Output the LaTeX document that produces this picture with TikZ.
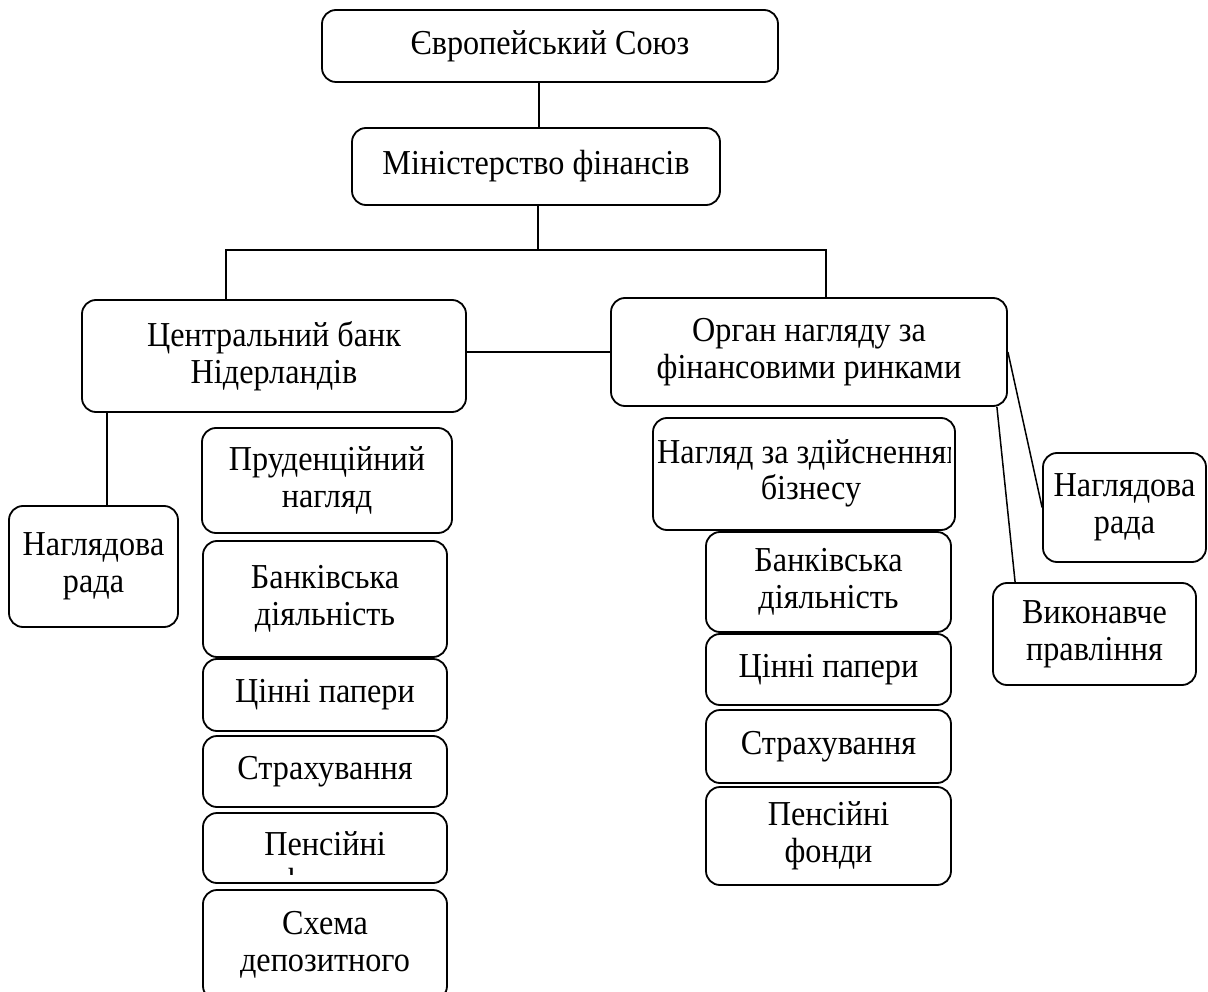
\documentclass[tikz,border=0pt]{standalone}
\usepackage{fontspec}
\setmainfont{Liberation Serif}[FakeStretch=0.92]
\begin{document}
\begin{tikzpicture}[x=1pt,y=-1pt,
  box/.style={draw, line width=1.8pt, rounded corners=14pt, align=center, inner sep=0pt,
              font=\fontsize{35}{37}\selectfont},
  txt/.style={inner sep=0pt, align=center, font=\fontsize{35}{37}\selectfont},
  conn/.style={line width=1.5pt}]
\useasboundingbox (0,0) rectangle (1208,992);
\fill[white] (0,0) rectangle (1208,992);
\clip (0,0) rectangle (1208,992);

% top
\node[box, minimum width=456pt, minimum height=72pt] (eu) at (550,46) {Європейський Союз};
\node[box, minimum width=368pt, minimum height=77pt] (min) at (536,166.5) {Міністерство фінансів};

% second level
\node[box, minimum width=384pt, minimum height=112pt] (cb) at (274,356) {Центральний банк\\Нідерландів};
\node[box, minimum width=396pt, minimum height=108pt] (onf) at (809,352) {Орган нагляду за\\фінансовими ринками};

% left side
\node[box, minimum width=169pt, minimum height=121pt] (nrL) at (93.5,566.5) {Наглядова\\рада};
\node[box, minimum width=250pt, minimum height=105pt] (pn) at (327,480.5) {Пруденційний\\нагляд};
\node[box, minimum width=244pt, minimum height=116pt] (bdL) at (325,599) {Банківська\\діяльність};
\node[box, minimum width=244pt, minimum height=72pt] (cpL) at (325,695) {Цінні папери};
\node[box, minimum width=244pt, minimum height=71pt] (strL) at (325,771.5) {Страхування};
\node[box, minimum width=244pt, minimum height=70pt] (pfL) at (325,848) {};
\begin{scope}
  \clip (203,817) rectangle (447,874);
  \node[txt] (pfLt) at (325,866) {Пенсійні\\фонди};
\end{scope}
\node[box, minimum width=244pt, minimum height=110pt] (sdL) at (325,945) {Схема\\депозитного};

% right side
\node[box, minimum width=302pt, minimum height=112pt] (nzb) at (804,474) {};
\begin{scope}
  \clip (653,418) rectangle (950,530);
  \node[txt, anchor=west] (nzb1) at (657,455) {Нагляд за здійсненням};
  \node[txt] (nzb2) at (811,491) {бізнесу};
\end{scope}
\node[box, minimum width=245pt, minimum height=100pt] (bdR) at (828.5,582) {Банківська\\діяльність};
\node[box, minimum width=245pt, minimum height=71pt] (cpR) at (828.5,669.5) {Цінні папери};
\node[box, minimum width=245pt, minimum height=73pt] (strR) at (828.5,746.5) {Страхування};
\node[box, minimum width=245pt, minimum height=98pt] (pfR) at (828.5,836) {Пенсійні\\фонди};
\node[box, minimum width=163pt, minimum height=109pt] (nrR) at (1124.5,507.5) {Наглядова\\рада};
\node[box, minimum width=203pt, minimum height=102pt] (vp) at (1094.5,634) {Виконавче\\правління};

% connectors
\coordinate (busL) at (226,250);
\coordinate (busR) at (826,250);
\draw[conn] ([xshift=3]min.north) -- ([xshift=3]min.north |- eu.south);
\draw[conn] ([xshift=2]min.south) -- ([xshift=2]min.south |- busL);
\draw[conn] (cb.north -| busL) -- (busL) -- (busR) -- (onf.north -| busR);
\draw[conn] (cb.east |- onf.west) -- (onf.west);
\draw[conn] ([xshift=13.5]nrL.north |- cb.south) -- ([xshift=13.5]nrL.north);
\draw[conn] (onf.east) -- (nrR.west);
\draw[conn] ([xshift=-11]onf.south east) -- ([xshift=23]vp.north west);
\end{tikzpicture}
\end{document}
